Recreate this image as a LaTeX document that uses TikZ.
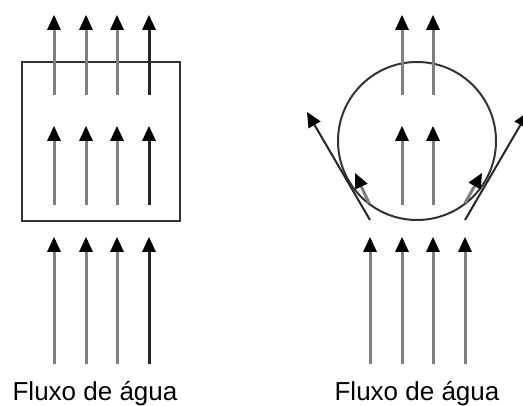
\documentclass[tikz,border=0pt]{standalone}
\usepackage{fontspec}
\setmainfont{Liberation Sans}
\usetikzlibrary{arrows.meta}
\tikzset{
  head/.style={-{Triangle[length=15pt,width=14pt,color=black,fill=black,line width=0pt]}},
  flow/.style={draw=black!50, line width=3pt, head},
  flowdark/.style={flow, draw=black!85},
  deflect/.style={draw=black!85, line width=2pt, head},
  body/.style={draw=black!80, line width=2pt},
  caption/.style={font=\fontsize{26}{30}\selectfont, anchor=base, inner sep=0pt}
}
\begin{document}
\begin{tikzpicture}[x=1pt, y=-1pt]
  \useasboundingbox (0,0) rectangle (523,406);

  % ---- square obstacle ----
  \draw[body] (22,62) rectangle (180,221);
  \foreach \px/\st in {54/flow, 86/flow, 117/flow, 149/flowdark} {
    \coordinate (a\px) at (\px,95);  \coordinate (b\px) at (\px,15);
    \coordinate (c\px) at (\px,205); \coordinate (d\px) at (\px,126);
    \coordinate (e\px) at (\px,364); \coordinate (f\px) at (\px,237);
    \draw[\st] (a\px) -- (b\px);
    \draw[\st] (c\px) -- (d\px);
    \draw[\st] (e\px) -- (f\px);
  }
  \node[caption] (capL) at (95,401) {Fluxo de água};

  % ---- circular obstacle ----
  \coordinate (ctr) at (417,141);
  \draw[body] (ctr) circle[radius=79];
  \foreach \px in {402, 433} {
    \coordinate (g\px) at (\px,95);  \coordinate (h\px) at (\px,15);
    \coordinate (i\px) at (\px,205); \coordinate (j\px) at (\px,126);
    \draw[flow] (g\px) -- (h\px);
    \draw[flow] (i\px) -- (j\px);
  }
  \foreach \px in {370, 402, 433, 465} {
    \coordinate (k\px) at (\px,364); \coordinate (l\px) at (\px,237);
    \draw[flow] (k\px) -- (l\px);
  }
  % flow deflected around the cylinder
  \coordinate (dl0) at (370,220); \coordinate (dl1) at (307,112);
  \coordinate (dr0) at (465,220); \coordinate (dr1) at (528,112);
  \draw[deflect] (dl0) -- (dl1);
  \draw[deflect] (dr0) -- (dr1);
  \coordinate (sl0) at (369,203); \coordinate (sl1) at (355,173);
  \coordinate (sr0) at (465,203); \coordinate (sr1) at (482,173);
  \draw[flow] (sl0) -- (sl1);
  \draw[flow] (sr0) -- (sr1);
  \node[caption] (capR) at (417,401) {Fluxo de água};
\end{tikzpicture}
\end{document}
